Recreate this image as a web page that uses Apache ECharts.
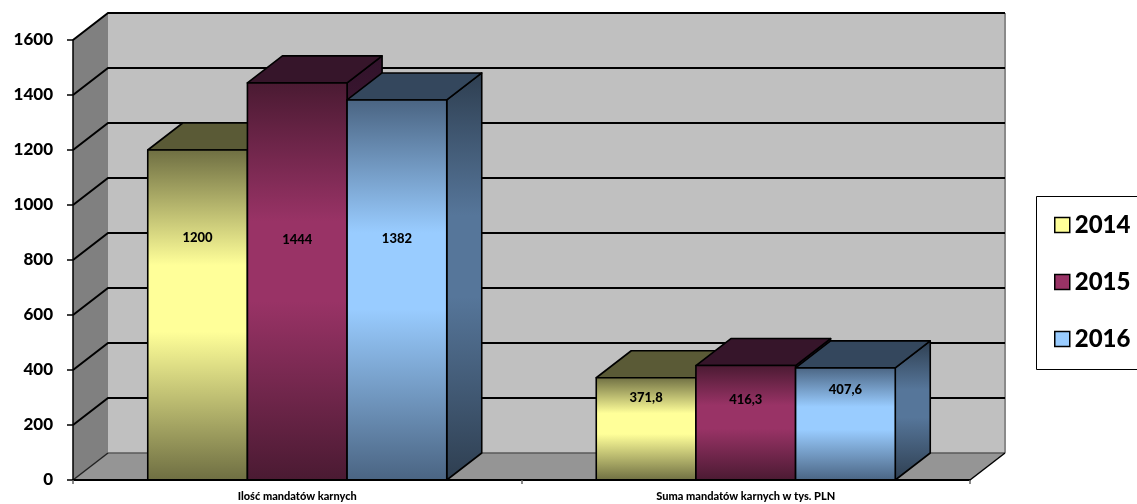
<!DOCTYPE html>
<html>
<head>
<meta charset="utf-8">
<script src="https://cdn.jsdelivr.net/npm/echarts@6/dist/echarts.min.js"></script>
<style>
  html, body { margin: 0; padding: 0; background: #ffffff; overflow: hidden; }
  #chart { width: 1137px; height: 504px; }
</style>
</head>
<body>
<div id="chart"></div>
<script>
// Mandaty karne – porównanie lat 2014–2016
const categories = ['Ilość mandatów karnych', 'Suma mandatów karnych w tys. PLN'];
const years = ['2014', '2015', '2016'];
const values2014 = [1200, 371.8];
const values2015 = [1444, 416.3];
const values2016 = [1382, 407.6];
const yTicks = [0, 200, 400, 600, 800, 1000, 1200, 1400, 1600];

// depth of the 3D box (pixels towards the back wall)
const DEPTH = { dx: 35, dy: -27 };
const FONT = 'Lato, "Open Sans", sans-serif';
const HEAVY = 900;
// legend frame (open on the right, it runs past the canvas edge)
const LEGEND_BOX = { x: 1036.5, y: 196.5, h: 173 };

// per-year face colours: front gradient (dark/light), top face, side gradient
const palettes = [
  { dark: '#6e6e42', light: '#ffff99', top: '#5a5a36', sideDark: '#4a4a2c', sideLight: '#76764a', legend: '#ffff99' },
  { dark: '#4a1a32', light: '#993366', top: '#36152a', sideDark: '#30122a', sideLight: '#4e1e3a', legend: '#993366' },
  { dark: '#4a6482', light: '#99ccff', top: '#34475d', sideDark: '#2e3e50', sideLight: '#56769a', legend: '#99ccff' }
];

// vertical level (axis units) at which each value label sits
const labelLevel = [[880, 298], [873, 291], [876, 327]];

function fmt(v) { return String(v).replace('.', ','); }

function grad(dark, light) {
  return new echarts.graphic.LinearGradient(0, 0, 0, 1, [
    { offset: 0, color: dark },
    { offset: 0.35, color: light },
    { offset: 0.55, color: light },
    { offset: 1, color: dark }
  ]);
}

function renderWalls(params, api) {
  const cs = params.coordSys;
  const L = cs.x, R = cs.x + cs.width;
  const yB = api.coord([0, yTicks[0]])[1];
  const yT = api.coord([0, yTicks[yTicks.length - 1]])[1];
  const dx = DEPTH.dx, dy = DEPTH.dy;
  const lb = LEGEND_BOX;
  const children = [
    { type: 'rect', shape: { x: L + dx, y: yT + dy, width: R - L, height: yB - yT }, style: { fill: '#c0c0c0' } },
    { type: 'polygon', shape: { points: [[L, yB], [L, yT], [L + dx, yT + dy], [L + dx, yB + dy]] }, style: { fill: '#808080' } },
    { type: 'polygon', shape: { points: [[L, yB], [R, yB], [R + dx, yB + dy], [L + dx, yB + dy]] }, style: { fill: '#959595' } },
    { type: 'line', shape: { x1: R + dx, y1: yT + dy, x2: R + dx, y2: yB + dy }, style: { stroke: '#8a8a8a', lineWidth: 2 } },
    { type: 'line', shape: { x1: L + dx, y1: yB + dy, x2: R + dx, y2: yB + dy }, style: { stroke: '#5a5a5a', lineWidth: 1.5 } },
    { type: 'line', shape: { x1: L, y1: yB, x2: L + dx, y2: yB + dy }, style: { stroke: '#222', lineWidth: 1.5 } },
    { type: 'line', shape: { x1: R, y1: yB, x2: R + dx, y2: yB + dy }, style: { stroke: '#000', lineWidth: 1.5 } },
    { type: 'polyline', shape: { points: [[lb.x + 200, lb.y], [lb.x, lb.y], [lb.x, lb.y + lb.h], [lb.x + 200, lb.y + lb.h]] },
      style: { stroke: '#000', lineWidth: 1, fill: null } }
  ];
  yTicks.forEach(function (v) {
    if (v === 0) return;
    const y = api.coord([0, v])[1];
    children.push({
      type: 'polyline',
      shape: { points: [[L, y], [L + dx, y + dy], [R + dx, y + dy]] },
      style: { stroke: '#000', lineWidth: 2, fill: null }
    });
  });
  return { type: 'group', children: children };
}

function makeBarRenderer(k) {
  const pal = palettes[k];
  return function (params, api) {
    const cat = api.value(0);
    const val = api.value(1);
    const base = api.coord([cat, 0]);
    const tip = api.coord([cat, val]);
    const band = api.size([1, 0])[0];
    const w = band / 4.5;
    const x0 = base[0] + (k - 1.5) * w;
    const x1 = x0 + w;
    const yb = base[1], yt = tip[1];
    const dx = DEPTH.dx, dy = DEPTH.dy;
    const edge = { stroke: '#000', lineWidth: 1.6, lineJoin: 'round' };
    const labelY = api.coord([cat, labelLevel[k][cat]])[1];
    return {
      type: 'group',
      children: [
        { type: 'polygon', shape: { points: [[x1, yt], [x1 + dx, yt + dy], [x1 + dx, yb + dy], [x1, yb]] },
          style: Object.assign({ fill: grad(pal.sideDark, pal.sideLight) }, edge) },
        { type: 'polygon', shape: { points: [[x0, yt], [x1, yt], [x1 + dx, yt + dy], [x0 + dx, yt + dy]] },
          style: Object.assign({ fill: pal.top }, edge) },
        { type: 'rect', shape: { x: x0, y: yt, width: w, height: yb - yt },
          style: Object.assign({ fill: grad(pal.dark, pal.light) }, edge) },
        { type: 'text', x: (x0 + x1) / 2, y: labelY,
          style: { text: fmt(val), fill: '#000', fontFamily: FONT, fontWeight: HEAVY, fontSize: 13, align: 'center', verticalAlign: 'middle' } }
      ]
    };
  };
}

const seriesValues = [values2014, values2015, values2016];

const chart = echarts.init(document.getElementById('chart'), null, { renderer: 'canvas' });
chart.setOption({
  animation: false,
  backgroundColor: '#ffffff',
  grid: { left: 73, right: 167, top: 40, bottom: 24, containLabel: false },
  xAxis: {
    type: 'category',
    data: categories,
    z: 10,
    axisLine: { lineStyle: { color: '#000', width: 2 } },
    axisTick: { show: true, length: 4, lineStyle: { color: '#666', width: 1.5 } },
    axisLabel: { color: '#000', fontFamily: FONT, fontWeight: HEAVY, fontSize: 11, margin: 11 },
    splitLine: { show: false }
  },
  yAxis: {
    type: 'value',
    min: 0, max: 1600, interval: 200,
    z: 10,
    axisLine: { show: true, lineStyle: { color: '#000', width: 1.5 } },
    axisTick: { show: true, length: 6, lineStyle: { color: '#000', width: 1.5 } },
    axisLabel: { color: '#000', fontFamily: FONT, fontWeight: HEAVY, fontSize: 17, margin: 20,
      formatter: function (v) { return String(v); } },
    splitLine: { show: false }
  },
  legend: {
    orient: 'vertical',
    left: 1036, top: 196,
    padding: [17, 10, 17, 18],
    itemGap: 33,
    itemWidth: 15, itemHeight: 15,
    selectedMode: false,
    z: 5,
    borderWidth: 0,
    textStyle: { color: '#000', fontFamily: FONT, fontWeight: HEAVY, fontSize: 24, lineHeight: 24 },
    data: years.map(function (y, i) {
      return { name: y, icon: 'rect', itemStyle: { color: palettes[i].legend, borderColor: '#000', borderWidth: 1.5 } };
    })
  },
  series: [
    { type: 'custom', name: 'walls', z: 1, silent: true, clip: false, renderItem: renderWalls, data: [[0, 0]] }
  ].concat(years.map(function (y, k) {
    return {
      type: 'custom',
      name: y,
      z: 2 + k,
      itemStyle: { color: palettes[k].legend },
      renderItem: makeBarRenderer(k),
      data: seriesValues[k].map(function (v, i) { return [i, v]; })
    };
  }))
});
</script>
</body>
</html>
